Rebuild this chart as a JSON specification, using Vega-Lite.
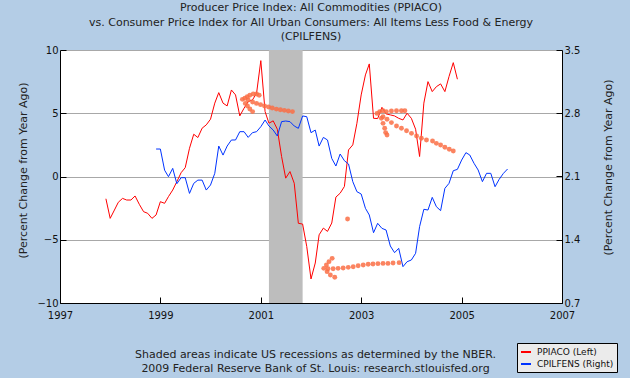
{
  "$schema": "https://vega.github.io/schema/vega-lite/v6.json",
  "width": 502,
  "height": 253,
  "autosize": "none",
  "padding": {"left": 60, "top": 50, "right": 68, "bottom": 75},
  "background": "#B4CDE6",
  "config": {
    "view": {"fill": "white", "stroke": null},
    "font": "DejaVu Sans",
    "axis": {"labelFont": "DejaVu Sans", "titleFont": "DejaVu Sans", "labelColor": "#111", "titleColor": "#222", "labelFontSize": 10, "titleFontSize": 11, "titleFontWeight": "normal", "domainColor": "#000", "tickColor": "#000"},
    "legend": {"orient": "none", "legendX": 457, "legendY": 293, "padding": 3, "rowPadding": 1, "symbolType": "stroke", "symbolSize": 100, "symbolStrokeWidth": 2, "labelFontSize": 9, "labelFont": "DejaVu Sans", "labelColor": "#111", "fillColor": "#EBEBEB", "strokeColor": "#000", "labelOffset": 5, "cornerRadius": 0}
  },
  "title": {
    "text": ["Producer Price Index: All Commodities (PPIACO)", "vs.  Consumer Price Index for All Urban Consumers: All Items Less Food & Energy", "(CPILFENS)"],
    "fontSize": 11, "fontWeight": "normal", "color": "#222", "anchor": "middle", "offset": 3, "lineHeight": 14.5, "font": "DejaVu Sans"
  },
  "datasets": {
    "rec": [{"start": "2001-03-01", "end": "2001-11-01"}],
    "ppi": [
      {"d": "1997-12", "v": -1.76}, {"d": "1998-01", "v": -3.31}, {"d": "1998-02", "v": -2.65}, {"d": "1998-03", "v": -2.04},
      {"d": "1998-04", "v": -1.73}, {"d": "1998-05", "v": -1.86}, {"d": "1998-06", "v": -1.86}, {"d": "1998-07", "v": -1.54},
      {"d": "1998-08", "v": -2.2}, {"d": "1998-09", "v": -2.78}, {"d": "1998-10", "v": -2.91}, {"d": "1998-11", "v": -3.31},
      {"d": "1998-12", "v": -3.04}, {"d": "1999-01", "v": -1.99}, {"d": "1999-02", "v": -2.12}, {"d": "1999-03", "v": -1.59},
      {"d": "1999-04", "v": -1.07}, {"d": "1999-05", "v": -0.41}, {"d": "1999-06", "v": 0.3}, {"d": "1999-07", "v": 0.7},
      {"d": "1999-08", "v": 2.23}, {"d": "1999-09", "v": 3.34}, {"d": "1999-10", "v": 3.08}, {"d": "1999-11", "v": 3.82},
      {"d": "1999-12", "v": 4.08}, {"d": "2000-01", "v": 4.53}, {"d": "2000-02", "v": 5.8}, {"d": "2000-03", "v": 6.63},
      {"d": "2000-04", "v": 5.8}, {"d": "2000-05", "v": 5.58}, {"d": "2000-06", "v": 6.84}, {"d": "2000-07", "v": 6.45},
      {"d": "2000-08", "v": 4.79}, {"d": "2000-09", "v": 5.4}, {"d": "2000-10", "v": 5.92}, {"d": "2000-11", "v": 6.05},
      {"d": "2000-12", "v": 6.58}, {"d": "2001-01", "v": 9.16}, {"d": "2001-02", "v": 5.13}, {"d": "2001-03", "v": 4.21},
      {"d": "2001-04", "v": 4.4}, {"d": "2001-05", "v": 3.74}, {"d": "2001-06", "v": 1.58}, {"d": "2001-07", "v": -0.13},
      {"d": "2001-08", "v": 0.39}, {"d": "2001-09", "v": -0.53}, {"d": "2001-10", "v": -3.7}, {"d": "2001-11", "v": -3.76},
      {"d": "2001-12", "v": -5.53}, {"d": "2002-01", "v": -8.1}, {"d": "2002-02", "v": -6.84}, {"d": "2002-03", "v": -4.61},
      {"d": "2002-04", "v": -4.08}, {"d": "2002-05", "v": -4.34}, {"d": "2002-06", "v": -3.68}, {"d": "2002-07", "v": -1.63},
      {"d": "2002-08", "v": -1.32}, {"d": "2002-09", "v": -0.79}, {"d": "2002-10", "v": 2.1}, {"d": "2002-11", "v": 2.5},
      {"d": "2002-12", "v": 4.21}, {"d": "2003-01", "v": 6.45}, {"d": "2003-02", "v": 8.03}, {"d": "2003-03", "v": 8.9},
      {"d": "2003-04", "v": 4.6}, {"d": "2003-05", "v": 4.58}, {"d": "2003-06", "v": 5.47}, {"d": "2003-07", "v": 4.95},
      {"d": "2003-08", "v": 4.87}, {"d": "2003-09", "v": 4.79}, {"d": "2003-10", "v": 4.6}, {"d": "2003-11", "v": 4.47},
      {"d": "2003-12", "v": 5.0}, {"d": "2004-01", "v": 4.6}, {"d": "2004-02", "v": 3.74}, {"d": "2004-03", "v": 1.58},
      {"d": "2004-04", "v": 5.8}, {"d": "2004-05", "v": 7.5}, {"d": "2004-06", "v": 6.71}, {"d": "2004-07", "v": 7.1},
      {"d": "2004-08", "v": 7.32}, {"d": "2004-09", "v": 6.71}, {"d": "2004-10", "v": 7.9}, {"d": "2004-11", "v": 9.0},
      {"d": "2004-12", "v": 7.69}
    ],
    "cpi": [
      {"d": "1998-12", "v": 2.404}, {"d": "1999-01", "v": 2.404}, {"d": "1999-02", "v": 2.17}, {"d": "1999-03", "v": 2.098},
      {"d": "1999-04", "v": 2.19}, {"d": "1999-05", "v": 2.02}, {"d": "1999-06", "v": 2.087}, {"d": "1999-07", "v": 2.087},
      {"d": "1999-08", "v": 1.913}, {"d": "1999-09", "v": 2.024}, {"d": "1999-10", "v": 2.06}, {"d": "1999-11", "v": 2.06},
      {"d": "1999-12", "v": 1.95}, {"d": "2000-01", "v": 2.006}, {"d": "2000-02", "v": 2.135}, {"d": "2000-03", "v": 2.437},
      {"d": "2000-04", "v": 2.337}, {"d": "2000-05", "v": 2.437}, {"d": "2000-06", "v": 2.504}, {"d": "2000-07", "v": 2.504},
      {"d": "2000-08", "v": 2.596}, {"d": "2000-09", "v": 2.596}, {"d": "2000-10", "v": 2.533}, {"d": "2000-11", "v": 2.585},
      {"d": "2000-12", "v": 2.596}, {"d": "2001-01", "v": 2.651}, {"d": "2001-02", "v": 2.725}, {"d": "2001-03", "v": 2.659},
      {"d": "2001-04", "v": 2.614}, {"d": "2001-05", "v": 2.548}, {"d": "2001-06", "v": 2.707}, {"d": "2001-07", "v": 2.714},
      {"d": "2001-08", "v": 2.707}, {"d": "2001-09", "v": 2.659}, {"d": "2001-10", "v": 2.633}, {"d": "2001-11", "v": 2.77},
      {"d": "2001-12", "v": 2.762}, {"d": "2002-01", "v": 2.585}, {"d": "2002-02", "v": 2.614}, {"d": "2002-03", "v": 2.437},
      {"d": "2002-04", "v": 2.533}, {"d": "2002-05", "v": 2.504}, {"d": "2002-06", "v": 2.3}, {"d": "2002-07", "v": 2.216},
      {"d": "2002-08", "v": 2.349}, {"d": "2002-09", "v": 2.275}, {"d": "2002-10", "v": 2.238}, {"d": "2002-11", "v": 2.043},
      {"d": "2002-12", "v": 1.932}, {"d": "2003-01", "v": 1.906}, {"d": "2003-02", "v": 1.748}, {"d": "2003-03", "v": 1.674},
      {"d": "2003-04", "v": 1.478}, {"d": "2003-05", "v": 1.582}, {"d": "2003-06", "v": 1.526}, {"d": "2003-07", "v": 1.508},
      {"d": "2003-08", "v": 1.331}, {"d": "2003-09", "v": 1.257}, {"d": "2003-10", "v": 1.305}, {"d": "2003-11", "v": 1.102},
      {"d": "2003-12", "v": 1.157}, {"d": "2004-01", "v": 1.176}, {"d": "2004-02", "v": 1.25}, {"d": "2004-03", "v": 1.545},
      {"d": "2004-04", "v": 1.737}, {"d": "2004-05", "v": 1.729}, {"d": "2004-06", "v": 1.869}, {"d": "2004-07", "v": 1.766},
      {"d": "2004-08", "v": 1.722}, {"d": "2004-09", "v": 1.969}, {"d": "2004-10", "v": 2.024}, {"d": "2004-11", "v": 2.164},
      {"d": "2004-12", "v": 2.179}, {"d": "2005-01", "v": 2.282}, {"d": "2005-02", "v": 2.364}, {"d": "2005-03", "v": 2.338},
      {"d": "2005-04", "v": 2.246}, {"d": "2005-05", "v": 2.172}, {"d": "2005-06", "v": 2.043}, {"d": "2005-07", "v": 2.135},
      {"d": "2005-08", "v": 2.135}, {"d": "2005-09", "v": 1.987}, {"d": "2005-10", "v": 2.069}, {"d": "2005-11", "v": 2.135},
      {"d": "2005-12", "v": 2.183}
    ],
    "notes": [
      {"d": "2000-08-20", "v": 6.10}, {"d": "2000-09-07", "v": 6.18}, {"d": "2000-09-24", "v": 6.31}, {"d": "2000-10-13", "v": 6.42},
      {"d": "2000-11-07", "v": 6.52}, {"d": "2000-12-01", "v": 6.52}, {"d": "2000-12-20", "v": 6.42}, {"d": "2000-09-10", "v": 5.78},
      {"d": "2000-09-26", "v": 5.57}, {"d": "2000-10-13", "v": 5.34}, {"d": "2000-11-02", "v": 5.13}, {"d": "2000-10-01", "v": 6.05},
      {"d": "2000-11-02", "v": 5.89}, {"d": "2000-12-01", "v": 5.78}, {"d": "2000-12-30", "v": 5.68}, {"d": "2001-01-28", "v": 5.57},
      {"d": "2001-02-26", "v": 5.49}, {"d": "2001-03-25", "v": 5.41}, {"d": "2001-04-24", "v": 5.33}, {"d": "2001-05-23", "v": 5.28},
      {"d": "2001-06-21", "v": 5.23}, {"d": "2001-07-20", "v": 5.18}, {"d": "2001-08-19", "v": 5.13},
      {"d": "2003-04-26", "v": 4.99}, {"d": "2003-05-16", "v": 5.13}, {"d": "2003-06-09", "v": 5.20}, {"d": "2003-07-03", "v": 5.13},
      {"d": "2003-08-09", "v": 5.18}, {"d": "2003-09-15", "v": 5.20}, {"d": "2003-10-21", "v": 5.20}, {"d": "2003-11-15", "v": 5.20},
      {"d": "2003-05-28", "v": 4.60}, {"d": "2003-06-09", "v": 4.20}, {"d": "2003-06-21", "v": 3.81}, {"d": "2003-06-28", "v": 3.47},
      {"d": "2003-07-08", "v": 3.28}, {"d": "2003-06-09", "v": 4.73}, {"d": "2003-07-08", "v": 4.52}, {"d": "2003-08-09", "v": 4.26},
      {"d": "2003-09-15", "v": 3.99}, {"d": "2003-10-21", "v": 3.81}, {"d": "2003-11-27", "v": 3.62}, {"d": "2004-01-02", "v": 3.41},
      {"d": "2004-02-08", "v": 3.20}, {"d": "2004-03-14", "v": 3.02}, {"d": "2004-04-20", "v": 2.89}, {"d": "2004-06-03", "v": 2.81},
      {"d": "2004-07-01", "v": 2.62}, {"d": "2004-08-01", "v": 2.49}, {"d": "2004-09-01", "v": 2.31}, {"d": "2004-10-03", "v": 2.15},
      {"d": "2004-11-01", "v": 2.02},
      {"d": "2002-04-04", "v": -7.26}, {"d": "2002-04-23", "v": -7.0}, {"d": "2002-05-12", "v": -6.73}, {"d": "2002-06-04", "v": -6.47},
      {"d": "2002-04-28", "v": -7.52}, {"d": "2002-05-22", "v": -7.79}, {"d": "2002-06-23", "v": -7.97}, {"d": "2002-05-05", "v": -7.29},
      {"d": "2002-06-11", "v": -7.29}, {"d": "2002-07-17", "v": -7.26}, {"d": "2002-08-23", "v": -7.23}, {"d": "2002-09-29", "v": -7.18},
      {"d": "2002-11-04", "v": -7.13}, {"d": "2002-12-10", "v": -7.05}, {"d": "2003-01-16", "v": -7.0}, {"d": "2003-02-21", "v": -6.94},
      {"d": "2003-03-28", "v": -6.92}, {"d": "2003-05-03", "v": -6.89}, {"d": "2003-06-09", "v": -6.87}, {"d": "2003-07-15", "v": -6.87},
      {"d": "2003-08-21", "v": -6.84}, {"d": "2003-10-04", "v": -6.81},
      {"d": "2002-09-24", "v": -3.36}
    ]
  },
  "layer": [
    {
      "data": {"name": "rec"},
      "mark": {"type": "rect", "color": "#BDBDBD"},
      "encoding": {
        "x": {
          "field": "start", "type": "temporal",
          "scale": {"domain": [{"year": 1997}, {"year": 2007}], "nice": false},
          "axis": {
            "values": [{"year": 1997}, {"year": 1999}, {"year": 2001}, {"year": 2003}, {"year": 2005}, {"year": 2007}],
            "format": "%Y", "grid": false, "tickSize": -6, "labelPadding": 13, "labelFlush": false,
            "title": ["Shaded areas indicate US recessions as determined by the NBER.", "2009 Federal Reserve Bank of St. Louis: research.stlouisfed.org"],
            "titleX": 255, "titleY": 45, "titleAlign": "center", "titleBaseline": "top", "titleLineHeight": 14, "titleFontSize": 11
          }
        },
        "x2": {"field": "end"}
      }
    },
    {
      "data": {"name": "ppi"},
      "mark": {"type": "line", "strokeWidth": 1},
      "encoding": {
        "x": {"field": "d", "type": "temporal"},
        "y": {
          "field": "v", "type": "quantitative",
          "scale": {"domain": [-10, 10], "nice": false, "zero": false},
          "axis": {"orient": "left", "values": [-10, -5, 0, 5, 10], "grid": true, "gridColor": "#A8A8A8", "tickSize": -6, "labelPadding": 8,
            "title": "(Percent Change from Year Ago)", "titleAngle": -90, "titleX": -37, "titleY": 120, "titleAlign": "center", "titleBaseline": "middle"}
        },
        "color": {
          "datum": "PPIACO (Left)", "type": "nominal",
          "scale": {"domain": ["PPIACO (Left)", "CPILFENS (Right)"], "range": ["#FF0000", "#0033FF"]},
          "legend": {"title": null}
        }
      }
    },
    {
      "data": {"name": "cpi"},
      "mark": {"type": "line", "strokeWidth": 1},
      "encoding": {
        "x": {"field": "d", "type": "temporal"},
        "y": {
          "field": "v", "type": "quantitative",
          "scale": {"domain": [0.7, 3.5], "nice": false, "zero": false},
          "axis": {"orient": "right", "values": [0.7, 1.4, 2.1, 2.8, 3.5], "format": ".1f", "grid": false, "tickSize": -6, "labelPadding": 8,
            "title": "(Percent Change from Year Ago)", "titleAngle": -90, "titleX": 46, "titleY": 117, "titleAlign": "center", "titleBaseline": "middle"}
        },
        "color": {"datum": "CPILFENS (Right)", "type": "nominal"}
      }
    },
    {
      "data": {"name": "notes"},
      "mark": {"type": "circle", "size": 24, "color": "#FA6E45", "opacity": 0.85},
      "encoding": {
        "x": {"field": "d", "type": "temporal"},
        "y": {"field": "v", "type": "quantitative", "scale": {"domain": [-10, 10], "nice": false, "zero": false}, "axis": null}
      }
    }
  ],
  "resolve": {"scale": {"y": "independent"}}
}
